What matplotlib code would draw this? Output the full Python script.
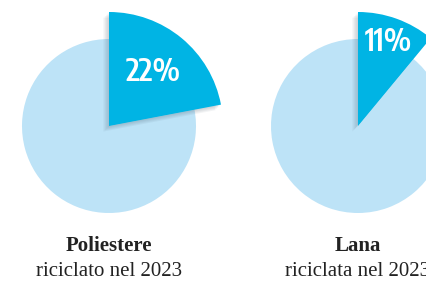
import numpy as np
import matplotlib.pyplot as plt
import matplotlib.patheffects as pe

# data
materials = ['Poliestere', 'Lana']
subtitles = ['riciclato nel 2023', 'riciclata nel 2023']
recycled_pct = [22, 11]

dark = '#00b4e4'
light = '#bde3f7'

W, H = 426, 282
fig = plt.figure(figsize=(W / 100, H / 100), dpi=100)
ax = fig.add_axes([0, 0, 1, 1])

centers = [(109, H - 126), (358, H - 126)]
text_dist = [0.61, 0.78]
r_base, r_big = 87, 114

# soft-ish drop shadow below/left of the highlighted slice
shadow = [pe.SimplePatchShadow(offset=(-k, -k), shadow_rgbFace='#4a6070', alpha=0.07)
          for k in (4, 3, 2, 1)] + [pe.Normal()]

for i, pct in enumerate(recycled_pct):
    cx, cy = centers[i]
    # base disc
    ax.pie([pct, 100 - pct], colors=[light, light], radius=r_base,
           center=(cx, cy), startangle=90, counterclock=False,
           wedgeprops=dict(linewidth=0), frame=True)
    # enlarged highlighted slice
    wedges, _ = ax.pie([pct, 100 - pct], colors=[dark, (0, 0, 0, 0)],
                       radius=r_big, center=(cx, cy), startangle=90,
                       counterclock=False, wedgeprops=dict(linewidth=0),
                       frame=True)
    wedges[0].set_path_effects(shadow)
    w = wedges[0]
    mid = np.deg2rad((w.theta1 + w.theta2) / 2)
    ax.text(cx + text_dist[i] * r_big * np.cos(mid),
            cy + text_dist[i] * r_big * np.sin(mid),
            f'{pct}%', color='white', fontsize=22, fontweight=600,
            family=['Encode Sans Condensed', 'DejaVu Sans'],
            ha='center', va='center')
    ax.text(cx, H - 246, materials[i], fontsize=15, fontweight='bold',
            family='Liberation Serif', color='#222222', ha='center', va='center')
    ax.text(cx, H - 271, subtitles[i], fontsize=15,
            family='Liberation Serif', color='#222222', ha='center', va='center')

ax.set_xlim(0, W)
ax.set_ylim(0, H)
ax.set_aspect('equal')
ax.axis('off')

fig.savefig('out.png', dpi=100)
